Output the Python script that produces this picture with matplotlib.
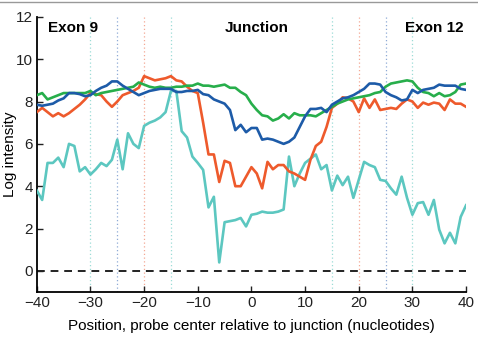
import numpy as np
import matplotlib
matplotlib.use('Agg')
from matplotlib import pyplot as plt
from matplotlib.lines import Line2D

plt.rcParams['font.family'] = ['Liberation Sans', 'DejaVu Sans']

posicao = np.arange(-40, 41)

ciano = [3.8, 3.35, 5.1, 5.1, 5.35, 4.9, 6.0, 5.9, 4.7, 4.9,
         4.55, 4.8, 5.1, 4.95, 5.25, 6.2, 4.8, 6.5, 6.0, 5.8,
         6.85, 7.0, 7.1, 7.25, 7.5, 8.5, 8.5, 6.6, 6.3, 5.4,
         5.1, 4.77, 3.0, 3.5, 0.4, 2.3, 2.35, 2.4, 2.5, 2.1,
         2.65, 2.7, 2.8, 2.75, 2.75, 2.8, 2.9, 5.4, 4.0, 4.6,
         5.1, 5.3, 5.5, 4.8, 5.0, 3.8, 4.5, 4.05, 4.45, 3.45,
         4.3, 5.15, 5.0, 4.9, 4.3, 4.25, 3.9, 3.6, 4.45, 3.45,
         2.65, 3.2, 3.25, 2.65, 3.35, 1.95, 1.3, 1.8, 1.3, 2.55,
         3.1]

vermelho = [7.5, 7.7, 7.5, 7.3, 7.45, 7.3, 7.45, 7.65, 7.85, 8.1,
            8.4, 8.35, 8.3, 8.0, 7.75, 8.0, 8.3, 8.4, 8.5, 8.65,
            9.2, 9.1, 9.0, 9.05, 9.1, 9.2, 9.0, 8.95, 8.7, 8.5,
            8.4, 7.0, 5.5, 5.5, 4.2, 5.2, 5.1, 4.0, 4.0, 4.45,
            4.9, 4.6, 3.9, 5.15, 4.8, 5.0, 5.0, 4.7, 4.6, 4.45,
            4.3, 5.25, 5.9, 6.1, 6.8, 7.7, 7.9, 8.2, 8.15, 8.0,
            7.5, 8.15, 7.7, 8.1, 7.6, 7.65, 7.7, 7.65, 7.9, 8.1,
            8.0, 7.7, 7.95, 7.85, 7.95, 7.9, 7.6, 8.1, 7.9, 7.9,
            7.75]

azul = [7.85, 7.8, 7.85, 7.9, 8.05, 8.15, 8.4, 8.4, 8.35, 8.25,
        8.3, 8.5, 8.65, 8.75, 8.95, 8.95, 8.75, 8.6, 8.45, 8.3,
        8.4, 8.5, 8.55, 8.6, 8.6, 8.6, 8.45, 8.45, 8.5, 8.5,
        8.55, 8.35, 8.3, 8.1, 8.0, 7.9, 7.6, 6.65, 6.9, 6.55,
        6.75, 6.75, 6.2, 6.25, 6.2, 6.1, 6.0, 6.1, 6.3, 6.8,
        7.3, 7.65, 7.65, 7.7, 7.5, 7.85, 8.0, 8.15, 8.2, 8.3,
        8.45, 8.6, 8.85, 8.85, 8.8, 8.45, 8.3, 8.2, 8.05, 8.1,
        8.55, 8.4, 8.55, 8.6, 8.65, 8.8, 8.75, 8.75, 8.75, 8.6,
        8.55]

verde = [8.3, 8.4, 8.1, 8.2, 8.3, 8.4, 8.4, 8.4, 8.4, 8.4,
         8.5, 8.3, 8.4, 8.45, 8.5, 8.55, 8.6, 8.65, 8.7, 8.9,
         8.8, 8.7, 8.65, 8.7, 8.65, 8.65, 8.7, 8.7, 8.75, 8.75,
         8.85, 8.75, 8.75, 8.7, 8.75, 8.8, 8.65, 8.65, 8.45, 8.3,
         7.9, 7.6, 7.35, 7.3, 7.1, 7.2, 7.4, 7.2, 7.45, 7.35,
         7.35, 7.35, 7.3, 7.45, 7.6, 7.75, 7.9, 8.0, 8.1, 8.15,
         8.2, 8.25, 8.3, 8.4, 8.45, 8.7, 8.85, 8.9, 8.95, 9.0,
         8.95, 8.65, 8.45, 8.4, 8.25, 8.4, 8.25, 8.3, 8.45, 8.8,
         8.85]

# linhas pontilhadas verticais (posicao, cor)
marcas_x = [-30, -25, -20, -15, 15, 20, 25, 30]
marcas_cor = ['#9cdcd6', '#8faad6', '#f4a894', '#9cdcd6',
              '#9cdcd6', '#f4a894', '#8faad6', '#9cdcd6']

rotulos = ['Exon 9', 'Junction', 'Exon 12']

fig = plt.figure(figsize=(4.78, 3.44), dpi=100)
ax = fig.add_axes([0.077, 0.151, 0.898, 0.80])

for xm, cor in zip(marcas_x, marcas_cor):
    ax.axvline(xm, color=cor, linestyle=(0, (1, 2)), linewidth=0.9, zorder=1)

ax.axhline(0, color='#222222', linestyle=(0, (4, 3)), linewidth=1.4, zorder=2)

ax.plot(posicao, ciano, color='#5cc7c0', linewidth=1.9, zorder=3)
ax.plot(posicao, vermelho, color='#ee5a2c', linewidth=1.9, zorder=4)
ax.plot(posicao, verde, color='#27ae4b', linewidth=1.9, zorder=5)
ax.plot(posicao, azul, color='#1d5ba8', linewidth=1.9, zorder=6)

ax.text(-38, 11.45, rotulos[0], fontsize=11, fontweight='bold', ha='left', va='center')
ax.text(1, 11.45, rotulos[1], fontsize=11, fontweight='bold', ha='center', va='center')
ax.text(39.5, 11.45, rotulos[2], fontsize=11, fontweight='bold', ha='right', va='center')

ax.set_xlim(-40, 40)
ax.set_ylim(-1, 12)
ax.set_xticks(range(-40, 41, 10))
ax.set_yticks(range(0, 13, 2))
ax.set_xticklabels(['\u221240', '\u221230', '\u221220', '\u221210', '0', '10', '20', '30', '40'])
ax.tick_params(direction='in', length=4, width=1, labelsize=11, colors='#222222', pad=3)
ax.spines['top'].set_visible(False)
ax.spines['right'].set_visible(False)
ax.spines['left'].set_linewidth(1.3)
ax.spines['bottom'].set_linewidth(1.3)
ax.set_xlabel('Position, probe center relative to junction (nucleotides)', fontsize=11, labelpad=6)
ax.set_ylabel('Log intensity', fontsize=11)
ax.yaxis.set_label_coords(-0.047, 0.5)

fig.add_artist(Line2D([0, 1], [0.994, 0.994], color='#999999', linewidth=1.0))

fig.savefig('out.png', dpi=100)
